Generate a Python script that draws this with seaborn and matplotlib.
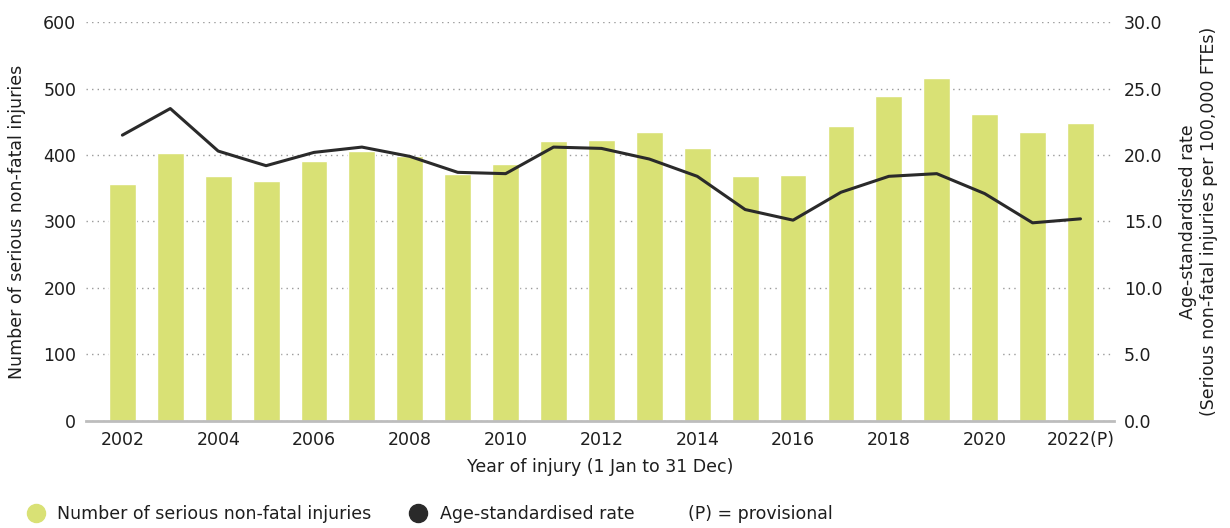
"""plot.py - serious non-fatal injuries and age-standardised rate, 2002-2022"""
import numpy as np
import pandas as pd
import seaborn as sns
import matplotlib.pyplot as plt
from matplotlib.lines import Line2D

years = [str(y) for y in range(2002, 2023)]
injuries = [357, 403, 369, 361, 391, 406, 398, 372, 387, 421, 423,
            434, 411, 369, 370, 443, 489, 516, 462, 435, 449]
rate = [21.5, 23.5, 20.3, 19.2, 20.2, 20.6, 19.9, 18.7, 18.6, 20.6, 20.5,
        19.7, 18.4, 15.9, 15.1, 17.2, 18.4, 18.6, 17.1, 14.9, 15.2]
tick_labels = ["2002", "2004", "2006", "2008", "2010", "2012",
               "2014", "2016", "2018", "2020", "2022(P)"]
left_ticks = [0, 100, 200, 300, 400, 500, 600]
right_ticks = [0, 5, 10, 15, 20, 25, 30]

BAR = "#d9e175"
LINE = "#2a2a2a"
TEXT = "#1e1e1e"
FS = 12.5

sns.set_style("white")
plt.rcParams["font.family"] = ["DejaVu Sans"]
plt.rcParams["text.color"] = TEXT
plt.rcParams["axes.labelcolor"] = TEXT
plt.rcParams["xtick.color"] = TEXT
plt.rcParams["ytick.color"] = TEXT

df = pd.DataFrame({"year": years, "injuries": injuries, "rate": rate})
df["pos"] = np.arange(len(df))

fig = plt.figure(figsize=(12.3, 5.28), dpi=100)
ax = fig.add_axes([0.0699, 0.203, 0.8358, 0.755])

sns.barplot(data=df, x="year", y="injuries", color=BAR, width=0.56,
            saturation=1, ax=ax, zorder=2)
ax.set_xlim(-0.76, len(years) - 0.3)
ax.set_ylim(0, 600)
ax.set_yticks(left_ticks)
ax.set_yticklabels([str(t) for t in left_ticks], fontsize=FS)
ax.set_xticks(df["pos"][::2])
ax.set_xticklabels(tick_labels, fontsize=FS)
ax.tick_params(axis="both", length=0)
ax.tick_params(axis="y", pad=7)
ax.tick_params(axis="x", pad=7)
ax.yaxis.grid(True, linestyle=(0, (1, 3)), color="#9a9a9a", linewidth=1, zorder=0)
ax.set_axisbelow(True)
for s in ["top", "right", "left"]:
    ax.spines[s].set_visible(False)
ax.spines["bottom"].set_color("#bdbdbd")
ax.spines["bottom"].set_linewidth(2)
ax.set_xlabel("Year of injury (1 Jan to 31 Dec)", fontsize=FS, labelpad=7)
ax.set_ylabel("Number of serious non-fatal injuries", fontsize=FS, labelpad=12)

ax2 = ax.twinx()
sns.lineplot(data=df, x="pos", y="rate", color=LINE, linewidth=2.2, ax=ax2, zorder=3)
ax2.set_ylim(0, 30)
ax2.set_yticks(right_ticks)
ax2.set_yticklabels([f"{t:.1f}" for t in right_ticks], fontsize=FS)
ax2.tick_params(axis="y", length=0, pad=7)
for s in ax2.spines.values():
    s.set_visible(False)
ax2.set_ylabel("Age-standardised rate\n(Serious non-fatal injuries per 100,000 FTEs)",
               fontsize=FS, labelpad=12, linespacing=1.25)
ax2.set_xlim(ax.get_xlim())

handles = [
    Line2D([], [], marker="o", linestyle="", markersize=13, color=BAR),
    Line2D([], [], marker="o", linestyle="", markersize=13, color=LINE),
]
fig.legend(handles, ["Number of serious non-fatal injuries", "Age-standardised rate"],
           loc="center left", bbox_to_anchor=(0.008, 0.027), ncol=2, frameon=False,
           fontsize=FS, handletextpad=0.63, columnspacing=2.1, handlelength=1.2)
fig.text(0.559, 0.027, "(P) = provisional", fontsize=FS, va="center", ha="left")

fig.savefig("out.png", dpi=100)
